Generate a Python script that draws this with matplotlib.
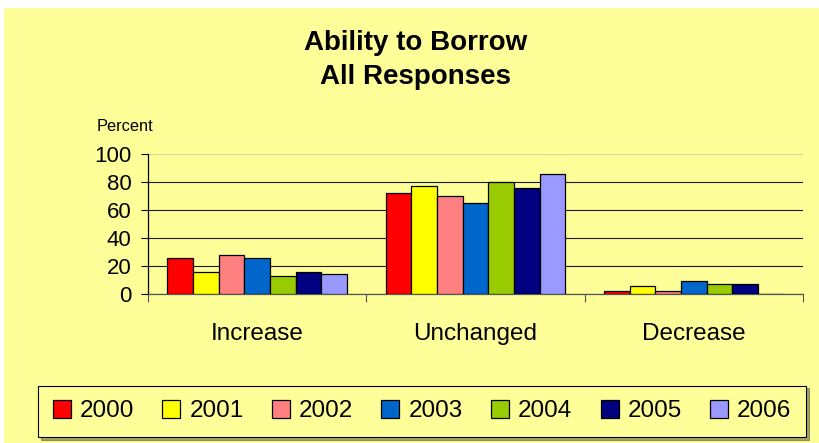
import numpy as np
import matplotlib.pyplot as plt
from matplotlib.patches import Rectangle, Patch

plt.rcParams['font.family'] = ['Liberation Sans', 'DejaVu Sans']

categories = ["Increase", "Unchanged", "Decrease"]
years = ["2000", "2001", "2002", "2003", "2004", "2005", "2006"]
colors = ["#FF0000", "#FFFF00", "#FF8080", "#0066CC", "#99CC00", "#000080", "#9999FF"]

# percent of responses, one list per year: Increase, Unchanged, Decrease
y2000 = [26, 72, 2]
y2001 = [16, 77, 6]
y2002 = [28, 70, 2]
y2003 = [26, 65, 9]
y2004 = [13, 80, 7]
y2005 = [16, 76, 7]
y2006 = [14, 86, 0]
series = [y2000, y2001, y2002, y2003, y2004, y2005, y2006]

bg = "#FFFF99"
W, H = 819, 443

fig = plt.figure(figsize=(W / 100, H / 100), dpi=100, facecolor="white")
fig.patches.append(Rectangle((4 / W, 0), 1 - 4 / W, 1 - 8 / H, transform=fig.transFigure,
                             facecolor=bg, edgecolor="none", zorder=-10))

ax = fig.add_axes([148 / W, (H - 294) / H, 655 / W, 140 / H])
ax.set_facecolor(bg)

x = np.arange(len(categories))
bw = 0.1175
for i, (vals, c) in enumerate(zip(series, colors)):
    ax.bar(x + (i - 3) * bw, vals, bw, color=c, edgecolor="black", linewidth=0.9, zorder=3)

ax.set_xlim(-0.5, 2.5)
ax.set_ylim(0, 100)
ax.set_yticks(range(0, 101, 20))
ax.tick_params(axis="y", length=5, width=0.8, pad=7, labelsize=16)
ax.yaxis.grid(True, color="#1a1a1a", linewidth=0.8, zorder=0)
ax.set_axisbelow(True)
ax.yaxis.get_gridlines()[-1].set_color("#d8d890")

# boundary ticks between categories, labels centred under each group
ax.set_xticks([-0.5, 0.5, 1.5, 2.5])
ax.set_xticklabels([])
ax.tick_params(axis="x", which="major", length=6, width=0.8, color="#555555")
ax.set_xticks(x, minor=True)
ax.set_xticklabels(categories, minor=True)
ax.tick_params(axis="x", which="minor", length=0, pad=21, labelsize=17.5)

for s in ["top", "right"]:
    ax.spines[s].set_visible(False)
ax.spines["left"].set_linewidth(0.9)
ax.spines["bottom"].set_color("#555555")
ax.spines["bottom"].set_linewidth(0.9)

fig.text(124.5 / W, (H - 131) / H, "Percent", ha="center", va="baseline", fontsize=11.8)
fig.text(416 / W, (H - 30) / H, "Ability to Borrow\nAll Responses", ha="center", va="top",
         fontsize=20, fontweight="bold", linespacing=1.42)

handles = [Patch(facecolor=c, edgecolor="black", linewidth=0.9) for c in colors]
leg = fig.legend(handles, years, loc="lower left", ncol=7, mode="expand",
                 bbox_to_anchor=(38 / W, (H - 437) / H, 768 / W, 58 / H), borderaxespad=0,
                 fontsize=17.5, handlelength=0.74, handleheight=0.74, handletextpad=0.37,
                 columnspacing=1.1, borderpad=0.6, fancybox=False, shadow=True)
frame = leg.get_frame()
frame.set_facecolor(bg)
frame.set_edgecolor("black")
frame.set_linewidth(0.8)
frame.set_alpha(1)

fig.savefig("out.png", dpi=100, facecolor="white")
